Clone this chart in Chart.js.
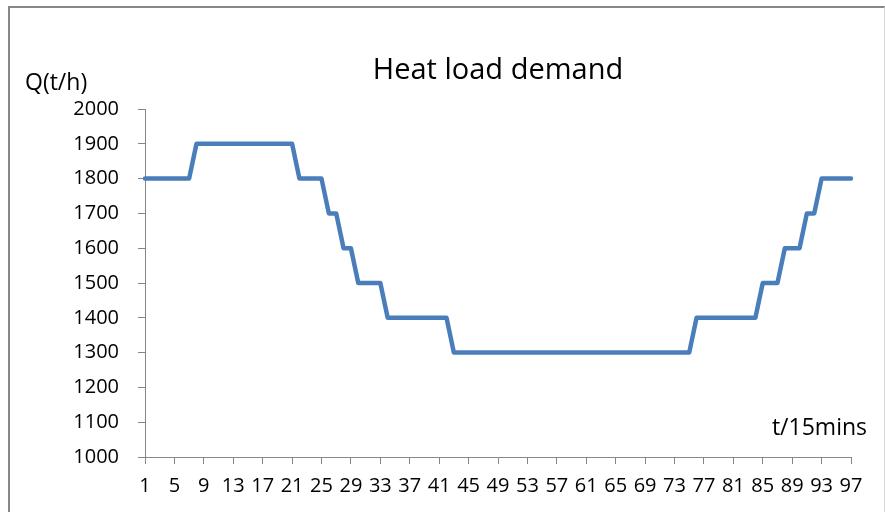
<!DOCTYPE html>
<html>
<head>
<meta charset="utf-8">
<script src="https://cdn.jsdelivr.net/npm/chart.js@4.4.1/dist/chart.umd.min.js"></script>
<style>
  html, body { margin: 0; padding: 0; background: #fff; }
  #wrap { position: relative; width: 885px; height: 512px; overflow: hidden; }
  #frame {
    position: absolute; left: 8px; top: 6px; width: 874px; height: 520px;
    border-top: 2px solid #878787; border-left: 2px solid #878787; border-right: 1px solid #d9d9d9;
  }
  #chart { position: absolute; left: 0; top: 0; }
</style>
</head>
<body>
<div id="wrap">
  <div id="frame"></div>
  <canvas id="chart" width="885" height="512"></canvas>
</div>
<script>
// time steps (15 min each)
const periods = [
  1, 2, 3, 4, 5, 6, 7, 8, 9, 10, 11, 12, 13, 14, 15, 16, 17, 18, 19, 20,
  21, 22, 23, 24, 25, 26, 27, 28, 29, 30, 31, 32, 33, 34, 35, 36, 37, 38, 39, 40,
  41, 42, 43, 44, 45, 46, 47, 48, 49, 50, 51, 52, 53, 54, 55, 56, 57, 58, 59, 60,
  61, 62, 63, 64, 65, 66, 67, 68, 69, 70, 71, 72, 73, 74, 75, 76, 77, 78, 79, 80,
  81, 82, 83, 84, 85, 86, 87, 88, 89, 90, 91, 92, 93, 94, 95, 96, 97
];
// heat load Q (t/h)
const heatLoad = [
  1800, 1800, 1800, 1800, 1800, 1800, 1800, 1900, 1900, 1900,
  1900, 1900, 1900, 1900, 1900, 1900, 1900, 1900, 1900, 1900,
  1900, 1800, 1800, 1800, 1800, 1700, 1700, 1600, 1600, 1500,
  1500, 1500, 1500, 1400, 1400, 1400, 1400, 1400, 1400, 1400,
  1400, 1400, 1300, 1300, 1300, 1300, 1300, 1300, 1300, 1300,
  1300, 1300, 1300, 1300, 1300, 1300, 1300, 1300, 1300, 1300,
  1300, 1300, 1300, 1300, 1300, 1300, 1300, 1300, 1300, 1300,
  1300, 1300, 1300, 1300, 1300, 1400, 1400, 1400, 1400, 1400,
  1400, 1400, 1400, 1400, 1500, 1500, 1500, 1600, 1600, 1600,
  1700, 1700, 1800, 1800, 1800, 1800, 1800
];
const yTicks = [1000, 1100, 1200, 1300, 1400, 1500, 1600, 1700, 1800, 1900, 2000];
const xLabelEvery = 4;

const axisGray = '#868686';
const fontFamily = '"Open Sans", sans-serif';

// axis captions placed like the original (not rotated)
const axisCaptions = {
  id: 'axisCaptions',
  afterDraw(chart) {
    const ctx = chart.ctx;
    const area = chart.chartArea;
    ctx.save();
    ctx.fillStyle = '#000';
    ctx.font = '23px ' + fontFamily;
    ctx.textBaseline = 'alphabetic';
    ctx.textAlign = 'left';
    ctx.fillText('Q(t/h)', 25, 90);
    ctx.textAlign = 'right';
    ctx.fillText('t/15mins', area.right + 16, 435);
    ctx.restore();
  }
};

const data = {
  labels: periods,
  datasets: [{
    label: 'Q',
    data: heatLoad,
    borderColor: '#4a7ebb',
    borderWidth: 4.5,
    borderJoinStyle: 'round',
    borderCapStyle: 'round',
    pointRadius: 0,
    tension: 0,
    fill: false
  }]
};

const config = {
  type: 'line',
  data: data,
  options: {
    responsive: false,
    animation: false,
    devicePixelRatio: 1,
    layout: { padding: { left: 10, right: 34, top: 10, bottom: 0 } },
    plugins: {
      legend: { display: false },
      tooltip: { enabled: false },
      title: {
        display: true,
        text: 'Heat load demand',
        fullSize: false,
        color: '#000',
        font: { family: fontFamily, size: 29, weight: 'normal', lineHeight: 1.2 },
        padding: { top: 43.6, bottom: 20.6 }
      }
    },
    scales: {
      x: {
        type: 'category',
        offset: false,
        grid: { drawOnChartArea: false, drawTicks: true, tickLength: 7, color: axisGray },
        border: { display: true, color: axisGray, width: 1 },
        ticks: {
          autoSkip: false,
          maxRotation: 0,
          minRotation: 0,
          padding: 10,
          color: '#000',
          font: { family: fontFamily, size: 20 }
        },
        afterBuildTicks: scale => {
          scale.ticks = scale.ticks.filter((t, i) => i % xLabelEvery === 0);
        },
        afterFit: scale => { scale.height = 55; }
      },
      y: {
        min: yTicks[0],
        max: yTicks[yTicks.length - 1],
        grid: { drawOnChartArea: false, drawTicks: true, tickLength: 7, color: axisGray },
        border: { display: true, color: axisGray, width: 1 },
        ticks: {
          stepSize: yTicks[1] - yTicks[0],
          padding: 19,
          color: '#000',
          font: { family: fontFamily, size: 20 },
          callback: value => String(value)
        },
        afterFit: scale => { scale.width = 135; }
      }
    }
  },
  plugins: [axisCaptions]
};

const canvas = document.getElementById('chart').getContext('2d');
let chart = new Chart(canvas, config);
</script>
</body>
</html>
